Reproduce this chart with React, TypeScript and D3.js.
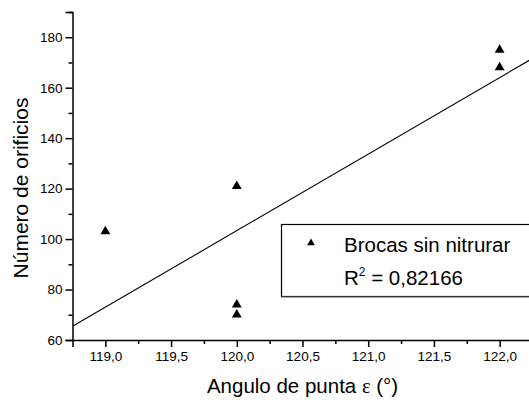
import React, { useRef, useEffect } from "react";
import * as d3 from "d3";

// values
const angles = [119.0, 120.0, 120.0, 120.0, 122.0, 122.0];
const holes = [103, 121, 74, 70, 175, 168];
const xMajorTicks = [119.0, 119.5, 120.0, 120.5, 121.0, 121.5, 122.0];
const xMinorTicks = [119.25, 119.75, 120.25, 120.75, 121.25, 121.75, 122.25];
const yMajorTicks = [60, 80, 100, 120, 140, 160, 180];
const yMinorTicks = [70, 90, 110, 130, 150, 170, 190];
const seriesName = "Brocas sin nitrurar";
const r2Label = "0,82166";

const W = 529;
const H = 400;
const font = "'Liberation Sans', Arial, Helvetica, sans-serif";

const App = () => {
  const xAxisRef = useRef<SVGGElement>(null);
  const yAxisRef = useRef<SVGGElement>(null);

  const x = d3.scaleLinear().domain([118.75, 122.25]).range([72.5, 532.5]);
  const y = d3.scaleLinear().domain([60, 190]).range([340, 12]);

  // least squares fit of the points
  const mx = d3.mean(angles) as number;
  const my = d3.mean(holes) as number;
  const sxy = d3.sum(angles, (a, i) => (a - mx) * (holes[i] - my));
  const sxx = d3.sum(angles, (a) => (a - mx) * (a - mx));
  const slope = sxy / sxx;
  const fit = (v: number) => my + slope * (v - mx);
  const fitLine = d3
    .line<number>()
    .x((d) => x(d))
    .y((d) => y(fit(d)))(x.domain());

  const tri = d3.symbol().type(d3.symbolTriangle).size(42)();
  const triSmall = d3.symbol().type(d3.symbolTriangle).size(26)();

  useEffect(() => {
    const fmt = (d: any) => d3.format(".1f")(d).replace(".", ",");
    const gx = d3.select(xAxisRef.current);
    gx.selectAll("*").remove();
    gx.append("g")
      .call(d3.axisBottom(x).tickValues(xMinorTicks).tickSize(4).tickFormat(() => ""))
      .call((g) => g.select(".domain").remove());
    gx.append("g")
      .call(d3.axisBottom(x).tickValues(xMajorTicks).tickSize(7).tickPadding(4).tickFormat(fmt));
    gx.selectAll("line, path").attr("stroke", "#000").attr("stroke-width", 1.5);
    gx.selectAll("text")
      .attr("font-family", font)
      .attr("font-size", 13.5)
      .attr("fill", "#000");

    const gy = d3.select(yAxisRef.current);
    gy.selectAll("*").remove();
    gy.append("g")
      .call(d3.axisLeft(y).tickValues(yMinorTicks).tickSize(4).tickFormat(() => ""))
      .call((g) => g.select(".domain").remove());
    gy.append("g")
      .call(d3.axisLeft(y).tickValues(yMajorTicks).tickSize(7).tickPadding(3));
    gy.selectAll("line, path").attr("stroke", "#000").attr("stroke-width", 1.5);
    gy.selectAll("text")
      .attr("font-family", font)
      .attr("font-size", 13.5)
      .attr("fill", "#000");
  }, []);

  return (
    <svg
      width={W}
      height={H}
      style={{ position: "absolute", left: 0, top: 0, background: "#fff" }}
    >
      <defs>
        <clipPath id="plot">
          <rect x={72.5} y={12} width={460} height={328} />
        </clipPath>
      </defs>
      <path d={fitLine || ""} fill="none" stroke="#000" strokeWidth={1.1} clipPath="url(#plot)" />
      {angles.map((a, i) => (
        <path key={i} d={tri || ""} transform={`translate(${x(a)},${y(holes[i])})`} fill="#000" />
      ))}
      <g ref={xAxisRef} transform={`translate(0,${y(60)})`} />
      <g ref={yAxisRef} transform={`translate(${x(118.75)},0)`} />

      {/* legend */}
      <rect x={281.5} y={224.5} width={260} height={72} fill="#fff" stroke="#000" strokeWidth={1.2} />
      <line x1={281.5} x2={541} y1={297} y2={297} stroke="#666" strokeWidth={1.2} />
      <path d={triSmall || ""} transform="translate(311,243)" fill="#000" />
      <text x={344} y={251.5} fontFamily={font} fontSize={20.5} fill="#000">
        {seriesName}
      </text>
      <text x={344} y={285} fontFamily={font} fontSize={20.5} fill="#000">
        R
        <tspan dy={-9} fontSize={12}>2</tspan>
        <tspan dy={9}>{" = " + r2Label}</tspan>
      </text>

      {/* axis titles */}
      <text x={302.5} y={393} textAnchor="middle" fontFamily={font} fontSize={20.5} fill="#000">
        {"Angulo de punta "}
        <tspan fontFamily="'Liberation Serif', 'Times New Roman', serif">ε</tspan>
        {" (°)"}
      </text>
      <text
        transform="translate(28,188) rotate(-90)"
        textAnchor="middle"
        fontFamily={font}
        fontSize={21}
        fill="#000"
      >
        Número de orificios
      </text>
    </svg>
  );
};

export default App;
